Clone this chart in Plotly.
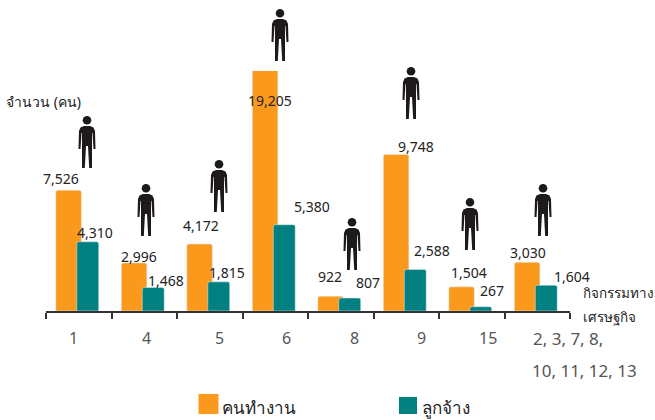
import plotly.graph_objects as go

W, H = 655, 420
FONT = "Noto Sans, Open Sans, DejaVu Sans, sans-serif"

sections = ["1", "4", "5", "6", "8", "9", "15", "2, 3, 7, 8,<br>10, 11, 12, 13"]
workers = [7526, 2996, 4172, 19205, 922, 9748, 1504, 3030]
employees = [4310, 1468, 1815, 5380, 807, 2588, 267, 1604]
name_workers = "คนทำงาน"
name_employees = "ลูกจ้าง"
y_title = "จำนวน (คน)"
x_title = ["กิจกรรมทาง", "เศรษฐกิจ"]

ORANGE, TEAL, INK = "#FB991C", "#008080", "#222222"

# plot area in window pixels
L, R, T, B = 46, 570, 71, 311
def px(x): return (x - L) / (R - L)
def py(y): return (B - y) / (B - T)

# label anchor positions in window pixels
worker_label_pos = [(61, 178), (139, 256), (201, 226), (269.5, 100), (330, 276), (416, 146), (469, 272), (528, 252)]
employee_label_pos = [(95, 232), (165.5, 280), (226.5, 272), (312, 206), (368, 282), (432, 250), (491.5, 290), (572, 276)]
tick_label_x = [73, 146, 219, 286, 354, 421, 488, 568]
person_pos = [(87, 116), (146, 184), (219, 160), (280, 9), (352, 218), (411, 67), (470, 198), (543, 184)]

fig = go.Figure()
fig.add_bar(x=sections, y=workers, name=name_workers, marker_color=ORANGE,
            offset=-0.35, width=0.39, showlegend=False)
fig.add_bar(x=sections, y=employees, name=name_employees, marker_color=TEAL,
            offset=-0.03, width=0.335, showlegend=False)

ann = []
def text(x, y, s, size, color=INK, anchor="center"):
    ann.append(dict(x=px(x), y=py(y), xref="paper", yref="paper", text=s, showarrow=False,
                    xanchor=anchor, yanchor="middle", align="center",
                    font=dict(family=FONT, size=size, color=color)))

for v, (x, y) in zip(workers, worker_label_pos):
    text(x, y, f"{v:,}", 14)
for v, (x, y) in zip(employees, employee_label_pos):
    text(x, y, f"{v:,}", 14)
for s, x in zip(sections[:-1], tick_label_x):
    text(x, 338, s, 16, "#555555")
last = sections[-1].split("<br>")
text(tick_label_x[-1], 338, last[0], 17, "#555555")
text(584.5, 370, last[1], 17, "#555555")
text(4, 101, y_title, 14, INK, "left")
text(581, 293, x_title[0], 13.5, INK, "left")
text(581, 317, x_title[1], 13.5, INK, "left")
text(220, 407, name_workers, 17, INK, "left")
text(420, 407, name_employees, 17, INK, "left")

shapes = []
def rect(x0, y0, x1, y1, color):
    shapes.append(dict(type="rect", xref="paper", yref="paper", x0=px(x0), x1=px(x1),
                       y0=py(y0), y1=py(y1), fillcolor=color, line_width=0, layer="above"))
rect(198.5, 394, 218.5, 414, ORANGE)
rect(399, 397, 417, 414, TEAL)

# decorative person pictogram, outline relative to head top centre
BODY = [(-3, 10), (3, 10), (6.5, 11.5), (8, 15), (8.5, 33), (6.5, 33), (5.5, 17), (5, 17), (5, 52),
        (2.2, 52), (1, 30), (-1, 30), (-2.2, 52), (-5, 52), (-5, 17), (-5.5, 17), (-6.5, 33),
        (-8.5, 33), (-8, 15), (-6.5, 11.5)]
for cx, top in person_pos:
    d = "M " + " L ".join(f"{px(cx + a):.5f} {py(top + b):.5f}" for a, b in BODY) + " Z"
    shapes.append(dict(type="path", xref="paper", yref="paper", path=d, fillcolor="#1E1A1A",
                       line_width=0, layer="above"))
    shapes.append(dict(type="circle", xref="paper", yref="paper", x0=px(cx - 4.3), x1=px(cx + 4.3),
                       y0=py(top + 8.6), y1=py(top), fillcolor="#1E1A1A", line_width=0, layer="above"))

fig.update_layout(
    width=W, height=H, barmode="overlay", barcornerradius=2,
    margin=dict(l=L, r=W - R, t=T, b=H - B, autoexpand=False),
    paper_bgcolor="white", plot_bgcolor="white", showlegend=False,
    annotations=ann, shapes=shapes,
    font=dict(family=FONT),
)
fig.update_xaxes(type="category", categoryorder="array", categoryarray=sections,
                 showticklabels=False, tickson="boundaries", ticks="outside", ticklen=6,
                 tickwidth=2, tickcolor="#333333", showline=True, linecolor="#333333",
                 linewidth=2, showgrid=False, zeroline=False)
fig.update_yaxes(range=[0, 14950], visible=False, showgrid=False, zeroline=False)

fig.write_html("out.html", post_script="document.body.style.margin='0';document.body.style.overflow='hidden';",
               config=dict(displayModeBar=False))
